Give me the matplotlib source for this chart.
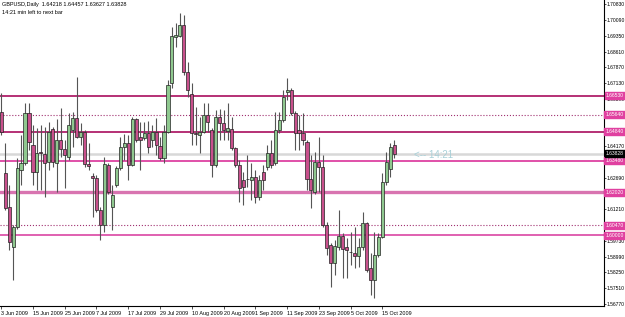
import matplotlib
matplotlib.use("Agg")
import matplotlib.pyplot as plt
import numpy as np

plt.rcParams['font.family'] = ['Liberation Sans', 'DejaVu Sans']

# GBPUSD daily bars, 3 Jun 2009 .. 19 Oct 2009
opens = [1.6579, 1.6292, 1.6132, 1.5945, 1.6038, 1.6306, 1.6339, 1.6573, 1.6423, 1.6296,
         1.6390, 1.6381, 1.6343, 1.6498, 1.6339, 1.6446, 1.6404, 1.6367, 1.6493, 1.6550,
         1.6460, 1.6484, 1.6334, 1.6278, 1.6268, 1.6118, 1.6048, 1.6329, 1.6132, 1.6235,
         1.6315, 1.6414, 1.6432, 1.6329, 1.6545, 1.6460, 1.6456, 1.6479, 1.6446, 1.6484,
         1.6418, 1.6362, 1.6484, 1.6714, 1.6929, 1.6934, 1.6986, 1.6765, 1.6662, 1.6479,
         1.6470, 1.6484, 1.6564, 1.6493, 1.6329, 1.6554, 1.6526, 1.6489, 1.6498, 1.6409,
         1.6329, 1.6259, 1.6263, 1.6259, 1.6273, 1.6179, 1.6296, 1.6320, 1.6385, 1.6339,
         1.6493, 1.6540, 1.6672, 1.6681, 1.6573, 1.6493, 1.6479, 1.6437, 1.6263, 1.6203,
         1.6343, 1.6320, 1.6048, 1.5954, 1.5870, 1.5945, 1.5996, 1.5945, 1.5920, 1.5916,
         1.5902, 1.5945, 1.6057, 1.5846, 1.5790, 1.5907, 1.5991, 1.6249, 1.6310, 1.64218]
highs = [1.6667, 1.6432, 1.6235, 1.6048, 1.6362, 1.6470, 1.6620, 1.6620, 1.6517, 1.6503,
         1.6517, 1.6507, 1.6531, 1.6507, 1.6545, 1.6596, 1.6446, 1.6573, 1.6578, 1.6742,
         1.6526, 1.6493, 1.6432, 1.6292, 1.6282, 1.6132, 1.6367, 1.6339, 1.6235, 1.6324,
         1.6460, 1.6475, 1.6470, 1.6554, 1.6550, 1.6531, 1.6531, 1.6536, 1.6517, 1.6550,
         1.6460, 1.6517, 1.6728, 1.6976, 1.6995, 1.7042, 1.7033, 1.6812, 1.6714, 1.6601,
         1.6554, 1.6620, 1.6620, 1.6503, 1.6587, 1.6592, 1.6587, 1.6620, 1.6554, 1.6414,
         1.6353, 1.6296, 1.6376, 1.6339, 1.6306, 1.6282, 1.6329, 1.6423, 1.6446, 1.6578,
         1.6578, 1.6681, 1.6737, 1.6690, 1.6580, 1.6564, 1.6573, 1.6446, 1.6376, 1.6390,
         1.6460, 1.6376, 1.6062, 1.5963, 1.5977, 1.6118, 1.6010, 1.5987, 1.6015, 1.6038,
         1.5987, 1.6109, 1.6062, 1.5916, 1.6015, 1.6010, 1.6292, 1.6390, 1.6432, 1.64457]
lows = [1.6470, 1.6120, 1.5930, 1.5790, 1.6030, 1.6235, 1.6330, 1.6399, 1.6235, 1.6212,
        1.6212, 1.6179, 1.6306, 1.6320, 1.6203, 1.6367, 1.6221, 1.6353, 1.6414, 1.6456,
        1.6423, 1.6320, 1.6306, 1.6085, 1.6109, 1.5977, 1.6015, 1.6193, 1.6024, 1.6226,
        1.6306, 1.6353, 1.6259, 1.6324, 1.6437, 1.6306, 1.6446, 1.6385, 1.6414, 1.6376,
        1.6353, 1.6339, 1.6479, 1.6690, 1.6883, 1.6929, 1.6751, 1.6648, 1.6423, 1.6423,
        1.6385, 1.6479, 1.6484, 1.6273, 1.6320, 1.6446, 1.6446, 1.6446, 1.6399, 1.6320,
        1.6156, 1.6142, 1.6226, 1.6165, 1.6151, 1.6165, 1.6212, 1.6306, 1.6315, 1.6329,
        1.6479, 1.6531, 1.6634, 1.6564, 1.6399, 1.6399, 1.6423, 1.6212, 1.6127, 1.6195,
        1.6203, 1.6038, 1.5907, 1.5757, 1.5813, 1.5930, 1.5799, 1.5799, 1.5860, 1.5846,
        1.5851, 1.5930, 1.5827, 1.5719, 1.5705, 1.5898, 1.5985, 1.6235, 1.6273, 1.63627]
closes = [1.6485, 1.6127, 1.5968, 1.6038, 1.6315, 1.6339, 1.6573, 1.6437, 1.6296, 1.6385,
          1.6385, 1.6339, 1.6484, 1.6343, 1.6446, 1.6404, 1.6376, 1.6517, 1.6550, 1.6460,
          1.6484, 1.6334, 1.6324, 1.6268, 1.6118, 1.6048, 1.6334, 1.6203, 1.6188, 1.6315,
          1.6414, 1.6432, 1.6329, 1.6545, 1.6446, 1.6446, 1.6479, 1.6414, 1.6484, 1.6423,
          1.6362, 1.6484, 1.6704, 1.6934, 1.6939, 1.6986, 1.6765, 1.6681, 1.6479, 1.6475,
          1.6484, 1.6564, 1.6531, 1.6329, 1.6554, 1.6526, 1.6493, 1.6503, 1.6409, 1.6329,
          1.6221, 1.6226, 1.6262, 1.6273, 1.6179, 1.6259, 1.6259, 1.6385, 1.6329, 1.6493,
          1.6540, 1.6648, 1.6681, 1.6573, 1.6479, 1.6479, 1.6446, 1.6263, 1.6212, 1.6343,
          1.6320, 1.6048, 1.5940, 1.5870, 1.5949, 1.5995, 1.5935, 1.5930, 1.5920, 1.5902,
          1.5945, 1.6057, 1.5837, 1.5790, 1.5907, 1.5991, 1.6249, 1.6343, 1.6414, 1.63828]

date_labels = ["3 Jun 2009", "15 Jun 2009", "25 Jun 2009", "7 Jul 2009", "17 Jul 2009",
               "29 Jul 2009", "10 Aug 2009", "20 Aug 2009", "1 Sep 2009", "11 Sep 2009",
               "23 Sep 2009", "5 Oct 2009", "15 Oct 2009"]
date_bars = [0, 8, 16, 24, 32, 40, 48, 56, 64, 72, 80, 88, 96]

price_ticks = [1.70830, 1.70090, 1.69350, 1.68610, 1.67870, 1.67130, 1.66390, 1.65650,
               1.64910, 1.64170, 1.63430, 1.62690, 1.61950, 1.61210, 1.60470, 1.59730,
               1.58990, 1.58250, 1.57510, 1.56770]
# scale labels that sit fully under a price box are not shown
hidden_ticks = [1.65650, 1.64910, 1.63430, 1.61950, 1.60470]

# horizontal levels drawn on the chart
level_prices = [1.66530, 1.65640, 1.64840, 1.63480, 1.62020, 1.60470, 1.60000]
level_colors = ['#b0206a', '#a03070', '#b0206a', '#e050a8', '#d874b0', '#a03070', '#e060b0']
level_styles = ['-', ':', '-', '-', '-', ':', '-']
level_widths = [1.3, 0.8, 1.3, 1.4, 2.4, 0.8, 1.4]

bid = 1.63828

fig = plt.figure(figsize=(6.25, 3.17), dpi=100)
ax = fig.add_axes([0.0, 11 / 317, 604 / 625, 306 / 317])

n = len(opens)
x = np.arange(n)
o = np.array(opens); h = np.array(highs); l = np.array(lows); c = np.array(closes)

ax.vlines(x, l, h, color='#555555', lw=0.8, zorder=3)
up = c >= o
body_bot = np.minimum(o, c)
body_h = np.maximum(np.abs(c - o), 0.0002)
ax.bar(x[up], body_h[up], bottom=body_bot[up], width=0.78, color='#8fc88f',
       edgecolor='#222222', lw=0.5, zorder=4)
ax.bar(x[~up], body_h[~up], bottom=body_bot[~up], width=0.78, color='#c8508c',
       edgecolor='#222222', lw=0.5, zorder=4)

# bid line
ax.axhline(bid, color='#d8d8d8', lw=1.8, zorder=1)
for p, col, ls, lw in zip(level_prices, level_colors, level_styles, level_widths):
    ax.axhline(p, color=col, ls=ls, lw=lw, zorder=2)

ax.set_xlim(-0.3, 151.8)
ax.set_ylim(1.56672, 1.71032)

ax.set_xticks(date_bars)
ax.set_xticklabels(date_labels, fontsize=3.9, ha='left')
ax.tick_params(axis='x', length=2, width=0.6, pad=1.5, color='#333333')

ax.yaxis.tick_right()
ax.set_yticks(price_ticks)
ax.set_yticklabels(["" if p in hidden_ticks else f"{p:.5f}" for p in price_ticks],
                   fontsize=3.6)
ax.tick_params(axis='y', length=1.2, width=0.6, pad=0.6, color='#333333')

for s in ['top', 'left']:
    ax.spines[s].set_visible(False)
for s in ['right', 'bottom']:
    ax.spines[s].set_linewidth(0.8)

# price boxes on the right scale
box_x = 623.5
for p in level_prices:
    ax.annotate(f"{p:.5f}", xy=(box_x, p), xycoords=('figure pixels', 'data'),
                fontsize=3.6, color='white', va='center', ha='right',
                annotation_clip=False, zorder=10,
                bbox=dict(boxstyle='square,pad=0.2', fc='#e040a0', ec='#e040a0'))
ax.annotate(f"{bid:.5f}", xy=(box_x, bid), xycoords=('figure pixels', 'data'),
            fontsize=3.6, color='white', va='center', ha='right',
            annotation_clip=False, zorder=10,
            bbox=dict(boxstyle='square,pad=0.2', fc='black', ec='black'))

ax.text(0.004, 0.992, "GBPUSD,Daily  1.64218 1.64457 1.63627 1.63828",
        transform=ax.transAxes, fontsize=4.0, va='top', ha='left')
ax.text(0.004, 0.967, "14:21 min left to next bar",
        transform=ax.transAxes, fontsize=4.0, va='top', ha='left')
ax.text(104, bid - 0.0005, "<-- 14:21", fontsize=7, color='#a8d0d8', va='center', ha='left')

fig.savefig("out.png", dpi=100)
